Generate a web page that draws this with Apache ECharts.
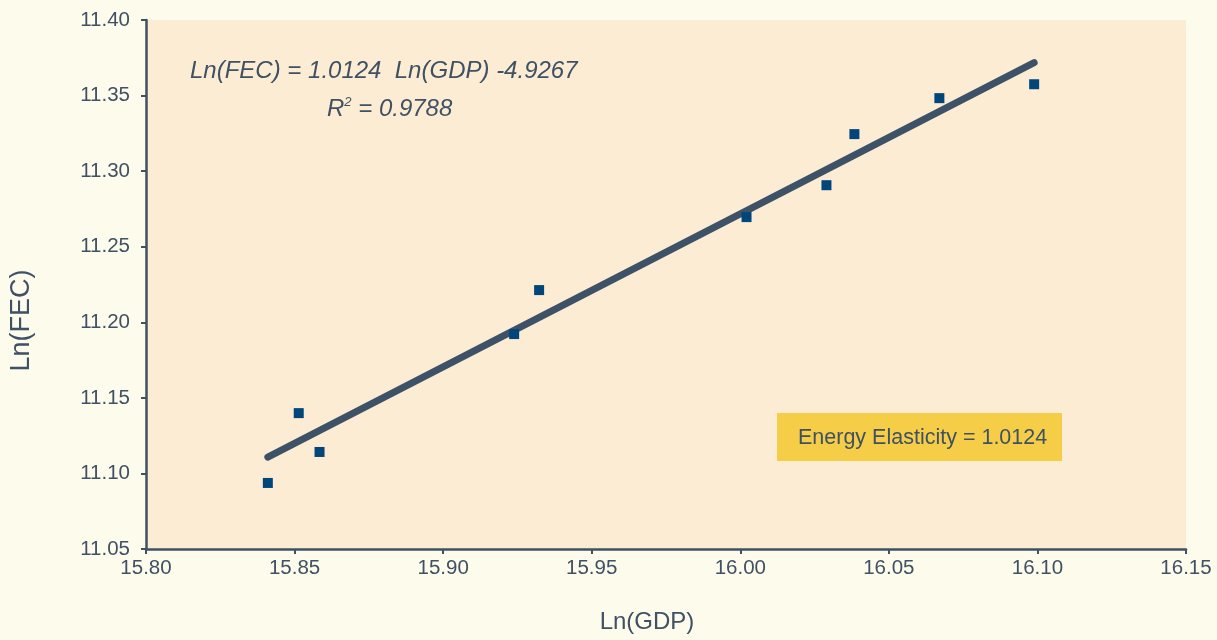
<!DOCTYPE html>
<html><head><meta charset="utf-8">
<script src="https://cdn.jsdelivr.net/npm/echarts@6/dist/echarts.min.js"></script>
<style>html,body{margin:0;padding:0;background:#fdfbec;}#c{width:1217px;height:640px;}</style>
</head><body><div id="c"></div>
<script>
var lnGDP = [15.841, 15.8514, 15.8584, 15.9239, 15.9323, 16.0021, 16.029, 16.0384, 16.067, 16.0989];
var lnFEC = [11.0937, 11.1399, 11.1142, 11.1922, 11.2213, 11.2696, 11.2907, 11.3245, 11.3483, 11.3575];
var slope = 1.0124, intercept = -4.9267;
var trendX = [15.841, 16.0989];
var equationText = 'Ln(FEC) = 1.0124  Ln(GDP) -4.9267';
var r2Text = '0.9788';
var elasticityText = 'Energy Elasticity = 1.0124';

var pts = lnGDP.map(function(x,i){return [x, lnFEC[i]];});
var trend = trendX.map(function(x){return [x, slope*x+intercept];});
var txt = '#3f5163';
var chart = echarts.init(document.getElementById('c'));
chart.setOption({
  backgroundColor:'#fdfbec',
  animation:false,
  grid:{left:144,right:31,top:20,bottom:91,show:true,backgroundColor:'#fdecd4',borderWidth:0},
  xAxis:{type:'value',min:15.80,max:16.15,interval:0.05,name:'Ln(GDP)',nameLocation:'middle',nameGap:61,
    nameTextStyle:{color:txt,fontSize:24,fontFamily:'Liberation Sans',padding:[0,38,0,0]},
    axisLine:{lineStyle:{color:'#3f5163',width:2.5}},
    axisTick:{show:true,length:5,lineStyle:{color:'#3f5163',width:2}},
    splitLine:{show:false},
    axisLabel:{color:txt,fontSize:20.5,fontFamily:'Liberation Sans',margin:9,formatter:function(v){return v.toFixed(2);}}},
  yAxis:{type:'value',min:11.05,max:11.40,interval:0.05,name:'Ln(FEC)',nameLocation:'middle',nameGap:111,
    nameTextStyle:{color:txt,fontSize:27,fontFamily:'Liberation Sans',padding:[0,72,0,0]},
    axisLine:{show:true,lineStyle:{color:'#3f5163',width:2.5}},
    axisTick:{show:true,length:5,lineStyle:{color:'#3f5163',width:2}},
    splitLine:{show:false},
    axisLabel:{color:txt,fontSize:20.5,fontFamily:'Liberation Sans',margin:16,formatter:function(v){return v.toFixed(2);}}},
  series:[
    {type:'line',data:trend,showSymbol:false,symbol:'none',z:2,
      lineStyle:{color:'#3d5266',width:7,cap:'round'}},
    {type:'scatter',data:pts,symbol:'rect',symbolSize:10,z:3,itemStyle:{color:'#00467a',opacity:1}}
  ],
  graphic:[
    {type:'text',left:190,top:59,style:{text:equationText,fill:txt,font:'italic 24px "Liberation Sans"'}},
    {type:'text',left:327,top:96,style:{text:'{r|R}{s|2}{r| = '+r2Text+'}',fill:txt,
      rich:{r:{fontSize:24,fontStyle:'italic',fontFamily:'Liberation Sans',fill:txt,color:txt},
            s:{fontSize:13,fontStyle:'italic',fontFamily:'Liberation Sans',fill:txt,color:txt,verticalAlign:'top',padding:[0,0,14,0]}}}},
    {type:'rect',left:777,top:413,shape:{width:285,height:48},style:{fill:'#f6cd47'}},
    {type:'text',left:798,top:427,style:{text:elasticityText,fill:txt,font:'21.5px "Liberation Sans"'}}
  ]
});
</script></body></html>
